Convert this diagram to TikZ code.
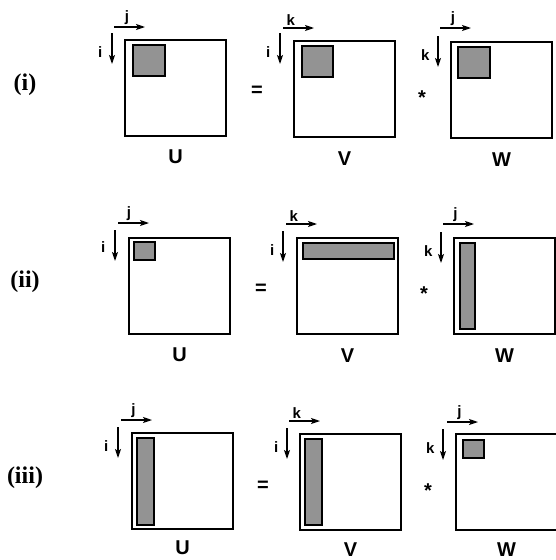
\documentclass[tikz,border=0pt]{standalone}
\usepackage{fontspec}
\setmainfont{Liberation Serif}
\setsansfont{Liberation Sans}
\usepackage{tikz}
\usetikzlibrary{arrows.meta, positioning}
\tikzset{
  mat/.style={
    rectangle, draw, line width=2.2pt,
    minimum width=101pt, minimum height=96pt,
    anchor=north west, inner sep=0pt
  },
  blk/.style={
    rectangle, draw, fill=gray!85, line width=1.6pt,
    anchor=north west, inner sep=0pt
  },
  idx/.style={draw, -{Stealth[length=9pt,width=6pt,inset=2pt]}, line width=1.2pt},
  idxlbl/.style={font=\sffamily\bfseries\fontsize{15}{15}\selectfont, inner sep=0pt},
  matlbl/.style={font=\sffamily\bfseries\fontsize{20}{21}\selectfont},
  oper/.style={font=\sffamily\bfseries\fontsize{20}{21}\selectfont},
  rowlbl/.style={font=\rmfamily\bfseries\fontsize{24}{26}\selectfont},
}

\begin{document}
\begin{tikzpicture}[x=1pt, y=-1pt]
  \useasboundingbox (0,0) rectangle (555,560);

  % Row (i)
  \node[rowlbl] (r1) at (25,85) {(i)};
  \node[mat] (U1) at (124,39) {};
  \node[mat] (V1) at (293,40) {};
  \node[mat] (W1) at (450,41) {};
  \node[blk, minimum width=32pt, minimum height=31pt] (u1) at ([shift={(8,5)}]U1.north west) {};
  \node[blk, minimum width=31pt, minimum height=31pt] (v1) at ([shift={(8,5)}]V1.north west) {};
  \node[blk, minimum width=32pt, minimum height=31pt] (w1) at ([shift={(7,5)}]W1.north west) {};
  \node[oper] (eq1) at (257,91) {=};
  \node[oper, anchor=base] (st1) at (422,104) {*};
  \node[matlbl] (lu1) at ([yshift=-20pt]U1.south) {U};
  \node[matlbl] (lv1) at ([yshift=-20pt]V1.south) {V};
  \node[matlbl] (lw1) at ([yshift=-20pt]W1.south) {W};

  % Row (ii)
  \node[rowlbl] (r2) at (25,282) {(ii)};
  \node[mat] (U2) at (128,237) {};
  \node[mat] (V2) at (296,237) {};
  \node[mat] (W2) at (453,237) {};
  \node[blk, minimum width=21pt, minimum height=18pt] (u2) at ([shift={(5,4)}]U2.north west) {};
  \node[blk, minimum width=91pt, minimum height=16pt] (v2) at ([shift={(6,5)}]V2.north west) {};
  \node[blk, minimum width=15pt, minimum height=86pt] (w2) at ([shift={(6,5)}]W2.north west) {};
  \node[oper] (eq2) at (261,289) {=};
  \node[oper, anchor=base] (st2) at (424,300) {*};
  \node[matlbl] (lu2) at ([yshift=-20pt]U2.south) {U};
  \node[matlbl] (lv2) at ([yshift=-20pt]V2.south) {V};
  \node[matlbl] (lw2) at ([yshift=-20pt]W2.south) {W};

  % Row (iii)
  \node[rowlbl] (r3) at (25,478) {(iii)};
  \node[mat] (U3) at (131,432) {};
  \node[mat] (V3) at (299,433) {};
  \node[mat] (W3) at (455,433) {};
  \node[blk, minimum width=17pt, minimum height=87pt] (u3) at ([shift={(5,5)}]U3.north west) {};
  \node[blk, minimum width=17pt, minimum height=86pt] (v3) at ([shift={(5,5)}]V3.north west) {};
  \node[blk, minimum width=21pt, minimum height=18pt] (w3) at ([shift={(7,6)}]W3.north west) {};
  \node[oper] (eq3) at (263,486) {=};
  \node[oper, anchor=base] (st3) at (428,497) {*};
  \node[matlbl] (lu3) at ([yshift=-18pt]U3.south) {U};
  \node[matlbl] (lv3) at ([yshift=-18pt]V3.south) {V};
  \node[matlbl] (lw3) at ([yshift=-18pt]W3.south) {W};

  % Index arrows
  \draw[idx] ([shift={(-10,-12)}]U1.north west) -- ++(31,0) node[idxlbl, pos=.42, above=2pt] (ju1) {j};
  \draw[idx] ([shift={(-12,-6)}]U1.north west) -- ++(0,31) node[idxlbl, pos=.6, left=9pt] (iu1) {i};
  \draw[idx] ([shift={(-10,-12)}]V1.north west) -- ++(31,0) node[idxlbl, pos=.25, above=2pt] (kv1) {k};
  \draw[idx] ([shift={(-13,-7)}]V1.north west) -- ++(0,31) node[idxlbl, pos=.6, left=9pt] (iv1) {i};
  \draw[idx] ([shift={(-10,-13)}]W1.north west) -- ++(31,0) node[idxlbl, pos=.42, above=2pt] (jw1) {j};
  \draw[idx] ([shift={(-12,-5)}]W1.north west) -- ++(0,31) node[idxlbl, pos=.6, left=8pt] (kw1) {k};

  \draw[idx] ([shift={(-10,-14)}]U2.north west) -- ++(31,0) node[idxlbl, pos=.35, above=2pt] (ju2) {j};
  \draw[idx] ([shift={(-13,-7)}]U2.north west) -- ++(0,31) node[idxlbl, pos=.55, left=9pt] (iu2) {i};
  \draw[idx] ([shift={(-10,-13)}]V2.north west) -- ++(31,0) node[idxlbl, pos=.25, above=2pt] (kv2) {k};
  \draw[idx] ([shift={(-13,-6)}]V2.north west) -- ++(0,31) node[idxlbl, pos=.6, left=8pt] (iv2) {i};
  \draw[idx] ([shift={(-10,-13)}]W2.north west) -- ++(31,0) node[idxlbl, pos=.4, above=2pt] (jw2) {j};
  \draw[idx] ([shift={(-12,-5)}]W2.north west) -- ++(0,31) node[idxlbl, pos=.6, left=8pt] (kw2) {k};

  \draw[idx] ([shift={(-10,-12)}]U3.north west) -- ++(31,0) node[idxlbl, pos=.4, above=2pt] (ju3) {j};
  \draw[idx] ([shift={(-13,-5)}]U3.north west) -- ++(0,31) node[idxlbl, pos=.6, left=9pt] (iu3) {i};
  \draw[idx] ([shift={(-10,-12)}]V3.north west) -- ++(31,0) node[idxlbl, pos=.25, above=2pt] (kv3) {k};
  \draw[idx] ([shift={(-12,-5)}]V3.north west) -- ++(0,31) node[idxlbl, pos=.6, left=8pt] (iv3) {i};
  \draw[idx] ([shift={(-8,-11)}]W3.north west) -- ++(31,0) node[idxlbl, pos=.4, above=2pt] (jw3) {j};
  \draw[idx] ([shift={(-12,-4)}]W3.north west) -- ++(0,31) node[idxlbl, pos=.6, left=8pt] (kw3) {k};
\end{tikzpicture}
\end{document}
